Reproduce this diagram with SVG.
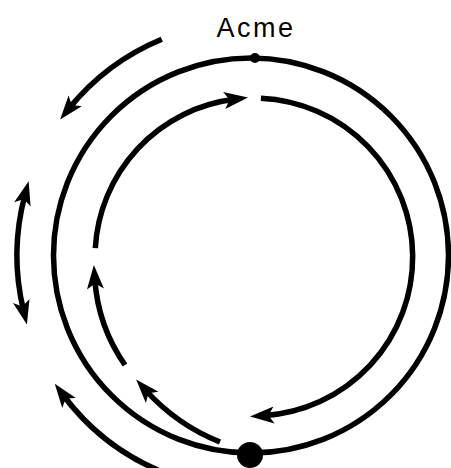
<svg xmlns="http://www.w3.org/2000/svg" width="451" height="468" viewBox="0 0 451 468">
  <style>
    .ln { fill: none; stroke: #000; stroke-width: 5.5; }
    .arr { marker-end: url(#head); }
    .dbl { marker-start: url(#head); marker-end: url(#head); }
    .lbl { font-family: "Liberation Sans", Arial, sans-serif; font-size: 27px; fill: #000; letter-spacing: 2.5px; }
  </style>
  <defs>
    <marker id="head" markerUnits="userSpaceOnUse" markerWidth="30" markerHeight="20" viewBox="-10 -10 30 20" refX="0" refY="0" orient="auto-start-reverse" overflow="visible">
      <path d="M14,0 L-10,-8.5 L-4.5,0 L-10,8.5 Z" fill="#000"/>
    </marker>
  </defs>
  <rect width="451" height="468" fill="#fff"/>

  <g id="outer-ring">
    <circle class="ln" cx="251" cy="255.5" r="197.5" stroke-width="5"/>
  </g>

  <g id="acme">
    <circle cx="255" cy="58" r="5" fill="#000"/>
    <text class="lbl" x="256" y="37" text-anchor="middle">Acme</text>
  </g>

  <g id="bottom-point">
    <circle cx="250" cy="455" r="13" fill="#000"/>
  </g>

  <g id="connectors">
    <!-- outer arrows -->
    <path class="ln arr" d="M161.8,39.2 A234,234 0 0 0 68.9,108.6"/>
    <path class="ln dbl" d="M25,194.7 A234,234 0 0 0 23.6,310.8"/>
    <path class="ln arr" d="M159.6,470.9 A234,234 0 0 1 63.1,395"/>
    <!-- inner ring arcs -->
    <path class="ln arr" d="M95.3,248.1 A159,159 0 0 1 234.1,99.3"/>
    <path class="ln arr" d="M260.9,98.2 A159,159 0 0 1 264,415.7"/>
    <!-- spiral segments -->
    <path class="ln arr" d="M220,442 A200,200 0 0 1 145.5,390"/>
    <path class="ln arr" d="M125,365 A170,170 0 0 1 94.8,279"/>
  </g>
</svg>
